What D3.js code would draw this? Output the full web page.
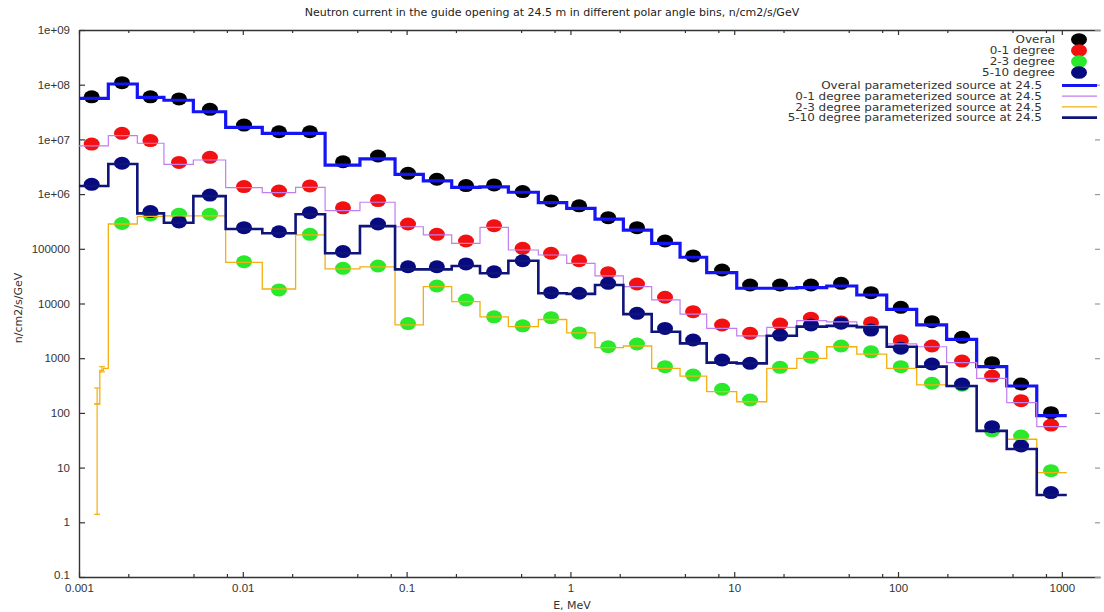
<!DOCTYPE html>
<html>
<head>
<meta charset="utf-8">
<script src="https://cdn.jsdelivr.net/npm/d3@7"></script>
<style>
body{margin:0;background:#fff;}
svg{display:block;font-family:'DejaVu Sans',sans-serif;}
.axis .domain{stroke:#333;stroke-width:1.4;}
.axis line{stroke:#333;stroke-width:1.2;}
.axis text{fill:#333;font-size:11.5px;}
</style>
</head>
<body>
<script>
// bin edges (MeV), and where the points sit
const binEdges = [0.001, 0.00151, 0.00227, 0.0033, 0.00499, 0.00786, 0.01315, 0.021, 0.0318, 0.0519,
  0.085, 0.1265, 0.1885, 0.2806, 0.418, 0.637, 0.949, 1.413, 2.105, 3.135,
  4.67, 6.79, 10.36, 15.8, 24.1, 36.7, 56, 85.3, 130, 198,
  302, 461, 703, 1072];
const pointE = [0.001195, 0.00183, 0.00273, 0.00408, 0.0063, 0.01017, 0.01663, 0.0257, 0.0409, 0.0669,
  0.102, 0.153, 0.2305, 0.342, 0.511, 0.762, 1.13, 1.70, 2.55, 3.78,
  5.61, 8.43, 12.5, 19.05, 29.4, 44.9, 68.4, 104, 161, 246,
  375, 564, 859];

// measured points
const overalPts = [6.0e7, 1.09e8, 6.0e7, 5.5e7, 3.55e7, 1.83e7, 1.38e7, 1.38e7, 3.9e6, 4.97e6,
  2.4e6, 1.87e6, 1.43e6, 1.47e6, 1.11e6, 7.5e5, 6.1e5, 3.7e5, 2.43e5, 1.39e5,
  7.4e4, 4.1e4, 2.18e4, 2.18e4, 2.18e4, 2.34e4, 1.58e4, 8.5e3, 4.65e3, 2.41e3,
  828, 337, 101];
const deg01Pts = [8.2e6, 1.29e7, 9.5e6, 3.8e6, 4.7e6, 1.37e6, 1.14e6, 1.41e6, 5.6e5, 7.6e5,
  2.84e5, 1.84e5, 1.39e5, 2.64e5, 1.02e5, 8.3e4, 6.05e4, 3.66e4, 2.27e4, 1.3e4,
  7.1e3, 4.05e3, 2.85e3, 4.2e3, 5.4e3, 4.6e3, 4.45e3, 2.09e3, 1.67e3, 887,
  472, 167, 60];
const deg23Pts = [null, 2.9e5, 4.15e5, 4.3e5, 4.3e5, 5.8e4, 1.77e4, 1.84e5, 4.4e4, 4.85e4,
  4.3e3, 2.09e4, 1.16e4, 5.7e3, 3.9e3, 5.5e3, 2.9e3, 1.62e3, 1.82e3, 700,
  492, 270, 172, 680, 1.04e3, 1.67e3, 1.31e3, 700, 348, 320,
  47, 37.8, 8.8];
const deg510Pts = [1.51e6, 3.66e6, 4.8e5, 3.1e5, 9.6e5, 2.43e5, 2.05e5, 4.57e5, 8.9e4, 2.84e5,
  4.7e4, 4.7e4, 5.3e4, 3.8e4, 6.05e4, 1.58e4, 1.54e4, 2.34e4, 6.6e3, 3.5e3,
  2.15e3, 927, 805, 2.65e3, 4.05e3, 4.35e3, 3.27e3, 1.52e3, 783, 337,
  56, 24.8, 3.5];

// parameterized source (step lines)
const overalSrc = [5.6e7, 1.03e8, 5.85e7, 5.2e7, 3.2e7, 1.66e7, 1.29e7, 1.29e7, 3.4e6, 4.4e6,
  2.3e6, 1.74e6, 1.33e6, 1.35e6, 1.08e6, 7.0e5, 5.5e5, 3.5e5, 2.2e5, 1.26e5,
  7.0e4, 3.66e4, 1.9e4, 1.9e4, 1.95e4, 2.09e4, 1.43e4, 7.8e3, 4.05e3, 2.21e3,
  700, 310, 89];
const deg01Src = [7.6e6, 1.17e7, 8.5e6, 3.5e6, 4.2e6, 1.31e6, 1.06e6, 1.33e6, 5.0e5, 7.1e5,
  2.53e5, 1.79e5, 1.26e5, 2.47e5, 9.5e4, 7.7e4, 5.4e4, 3.2e4, 2.03e4, 1.16e4,
  6.4e3, 3.5e3, 2.57e3, 3.67e3, 4.85e3, 4.6e3, 3.9e3, 1.82e3, 1.62e3, 828,
  428, 154, 56];
const deg23Src = [null, 2.84e5, 3.9e5, 4.0e5, 4.0e5, 5.66e4, 1.84e4, 1.79e5, 4.3e4, 4.66e4,
  4.05e3, 2.03e4, 1.08e4, 5.7e3, 3.77e3, 5.1e3, 2.9e3, 1.56e3, 1.67e3, 653,
  472, 244, 160, 653, 995, 1.62e3, 1.19e3, 653, 324, 302,
  47, 33, 8.1];
const deg510Src = [1.41e6, 3.55e6, 4.45e5, 3.0e5, 9.2e5, 2.3e5, 1.92e5, 4.27e5, 8.3e4, 2.6e5,
  4.2e4, 4.2e4, 4.85e4, 3.57e4, 6.05e4, 1.54e4, 1.5e4, 2.18e4, 6.4e3, 3.05e3,
  1.87e3, 830, 805, 2.57e3, 3.77e3, 3.9e3, 3.67e3, 1.62e3, 700, 310,
  47, 21.9, 3.15];

// 2-3 degree source: fine bins below the first full bin, with error bars
const lowEdges = [0.00129, 0.00134, 0.00141, 0.00151];
const lowSrc = [146, 600, 650];
const lowErr = [
  {e: 0.00129, lo: 1.4, hi: 285},
  {e: 0.00129, lo: 146, hi: 146},
  {e: 0.00138, lo: 560, hi: 700}
];

const xMajor = [0.001, 0.01, 0.1, 1, 10, 100, 1000];
const xMinor = [0.002, 0.005, 0.008, 0.02, 0.05, 0.08, 0.2, 0.5, 0.8, 2, 5, 8, 20, 50, 80, 200, 500, 800];
const yTicks = [0.1, 1, 10, 100, 1000, 10000, 100000, 1e6, 1e7, 1e8, 1e9];
const yTickLabels = ['0.1', '1', '10', '100', '1000', '10000', '100000', '1e+06', '1e+07', '1e+08', '1e+09'];

const pointLabels = ['Overal', '0-1 degree', '2-3 degree', '5-10 degree'];
const lineLabels = ['Overal parameterized source at 24.5', '0-1 degree parameterized source at 24.5',
  '2-3 degree parameterized source at 24.5', '5-10 degree parameterized source at 24.5'];

const title = 'Neutron current in the guide opening at 24.5 m in different polar angle bins, n/cm2/s/GeV';

// ---- drawing
const W = 1104, H = 612;
const plot = {left: 79, right: 1100, top: 30, bottom: 577};
const svg = d3.select('body').append('svg').attr('width', W).attr('height', H);

const x = d3.scaleLog().domain([0.001, 1710]).range([plot.left, plot.right]);
const y = d3.scaleLog().domain([0.1, 1e9]).range([plot.bottom, plot.top]);

const ptColors = ['#000000', '#f21010', '#2ae82a', '#080a80'];
const lnStyles = [
  {c: '#1414f5', w: 3.2},
  {c: '#c07ef0', w: 1.2},
  {c: '#f2b010', w: 1.3},
  {c: '#0e1478', w: 2.6}
];

// axes
const fmtX = d => d3.format('~g')(d);
svg.append('g').attr('class', 'axis').attr('transform', `translate(0,${plot.bottom})`)
  .call(d3.axisBottom(x).tickValues(xMajor).tickFormat(fmtX).tickSizeInner(-5).tickSizeOuter(0).tickPadding(7));
svg.append('g').attr('class', 'axis').attr('transform', `translate(0,${plot.bottom})`)
  .call(d3.axisBottom(x).tickValues(xMinor).tickFormat('').tickSizeInner(-3).tickSizeOuter(0))
  .select('.domain').remove();
svg.append('g').attr('class', 'axis').attr('transform', `translate(0,${plot.top})`)
  .call(d3.axisTop(x).tickValues(xMajor).tickFormat('').tickSizeInner(-5).tickSizeOuter(0));
svg.append('g').attr('class', 'axis').attr('transform', `translate(0,${plot.top})`)
  .call(d3.axisTop(x).tickValues(xMinor).tickFormat('').tickSizeInner(-3).tickSizeOuter(0))
  .select('.domain').remove();
const leftAx = svg.append('g').attr('class', 'axis').attr('transform', `translate(${plot.left},0)`)
  .call(d3.axisLeft(y).tickValues(yTicks).tickFormat((d, i) => yTickLabels[i]).tickSizeInner(-6).tickSizeOuter(0).tickPadding(9));
// bottom label sits a little high so it clears the x-axis numbers
leftAx.selectAll('.tick text').filter(d => d === 0.1).attr('dy', '0.1em');
const rightAx = svg.append('g').attr('class', 'axis').attr('transform', `translate(${plot.right},0)`)
  .call(d3.axisRight(y).tickValues(yTicks).tickFormat('').tickSizeInner(-5).tickSizeOuter(0));
rightAx.select('.domain').remove();
rightAx.selectAll('line').style('stroke', '#999');

// title and axis names
svg.append('text').attr('x', 552).attr('y', 16).attr('text-anchor', 'middle')
  .style('font-size', '11px').style('fill', '#222').text(title);
svg.append('text').attr('transform', 'translate(22,308) rotate(-90)').attr('text-anchor', 'middle')
  .style('font-size', '11px').style('fill', '#333').text('n/cm2/s/GeV');
svg.append('text').attr('x', 572).attr('y', 609).attr('text-anchor', 'middle')
  .style('font-size', '11px').style('fill', '#333').text('E, MeV');

// points
const ptSets = [overalPts, deg01Pts, deg23Pts, deg510Pts];
ptSets.forEach((vals, k) => {
  svg.append('g').selectAll('ellipse')
    .data(vals.map((v, i) => ({e: pointE[i], v})).filter(d => d.v != null))
    .join('ellipse')
    .attr('cx', d => x(d.e)).attr('cy', d => y(d.v))
    .attr('rx', 8).attr('ry', 6.5)
    .attr('fill', ptColors[k]);
});

// step lines
function stepPts(vals, edges) {
  const out = [];
  vals.forEach((v, i) => {
    if (v == null) return;
    out.push([edges[i], v], [edges[i + 1], v]);
  });
  return out;
}
const line = d3.line().x(d => x(d[0])).y(d => y(d[1]));
const srcSets = [overalSrc, deg01Src, deg23Src, deg510Src];
srcSets.forEach((vals, k) => {
  let pts = stepPts(vals, binEdges);
  if (k === 2) pts = stepPts(lowSrc, lowEdges).concat(pts);
  svg.append('path').attr('d', line(pts))
    .attr('fill', 'none').attr('stroke', lnStyles[k].c).attr('stroke-width', lnStyles[k].w)
    .attr('stroke-linejoin', 'miter');
});

// error bars on the low-energy 2-3 degree source
const eb = svg.append('g').attr('stroke', lnStyles[2].c).attr('stroke-width', 1.2);
lowErr.forEach(d => {
  const cx = x(d.e);
  eb.append('line').attr('x1', cx).attr('x2', cx).attr('y1', y(d.lo)).attr('y2', y(d.hi));
  eb.append('line').attr('x1', cx - 3).attr('x2', cx + 3).attr('y1', y(d.lo)).attr('y2', y(d.lo));
  eb.append('line').attr('x1', cx - 3).attr('x2', cx + 3).attr('y1', y(d.hi)).attr('y2', y(d.hi));
});

// legend: rows are tight, so use a smaller font and stretch it sideways
const lg = svg.append('g').style('font-size', '10.5px').style('fill', '#333');
function legendText(xx, yy, t) {
  const tx = lg.append('text').attr('x', xx).attr('y', yy).attr('dy', '0.35em')
    .attr('text-anchor', 'end').text(t);
  const w = tx.node().getComputedTextLength();
  tx.attr('textLength', w * 1.14).attr('lengthAdjust', 'spacingAndGlyphs');
}
pointLabels.forEach((t, i) => {
  const yy = 39.5 + i * 11;
  legendText(1055, yy, t);
  lg.append('ellipse').attr('cx', 1079).attr('cy', yy).attr('rx', 8).attr('ry', 6.3).attr('fill', ptColors[i]);
});
lineLabels.forEach((t, i) => {
  const yy = 85.5 + i * 10.7;
  legendText(1042, yy, t);
  lg.append('line').attr('x1', 1062).attr('x2', 1097).attr('y1', yy).attr('y2', yy)
    .attr('stroke', lnStyles[i].c).attr('stroke-width', lnStyles[i].w);
});
</script>
</body>
</html>
